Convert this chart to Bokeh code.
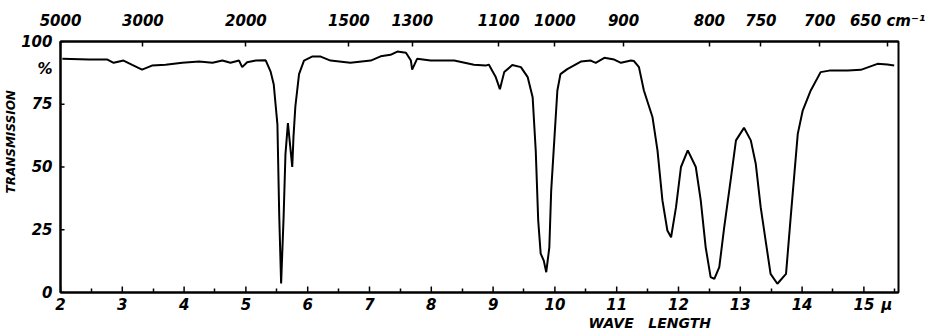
import math
from bokeh.plotting import figure
from bokeh.models import Range1d, LinearAxis, FixedTicker, Title
from bokeh.embed import file_html
from bokeh.resources import INLINE

# wavelength (micron) and % transmission
wavelength = [2.03, 2.46, 2.76, 2.86, 3.02, 3.16, 3.32, 3.48, 3.70, 3.97, 4.24, 4.46, 4.62,
              4.75, 4.89, 4.94, 5.02, 5.16, 5.32, 5.40, 5.45, 5.48, 5.51, 5.54, 5.57, 5.61,
              5.64, 5.68, 5.71, 5.75, 5.77, 5.80, 5.86, 5.94, 6.07, 6.21, 6.37, 6.69, 7.02,
              7.18, 7.34, 7.45, 7.59, 7.67, 7.69, 7.77, 7.99, 8.37, 8.69, 8.88, 8.93, 9.04,
              9.11, 9.18, 9.31, 9.45, 9.56, 9.64, 9.69, 9.73, 9.77, 9.82, 9.86, 9.91, 9.94,
              9.99, 10.04, 10.09, 10.20, 10.42, 10.58, 10.66, 10.80, 10.96, 11.07, 11.23,
              11.28, 11.36, 11.44, 11.58, 11.66, 11.74, 11.82, 11.88, 11.96, 12.04, 12.15,
              12.28, 12.36, 12.44, 12.52, 12.58, 12.66, 12.74, 12.85, 12.93, 13.06, 13.17,
              13.25, 13.33, 13.41, 13.49, 13.60, 13.74, 13.82, 13.93, 14.01, 14.14, 14.30,
              14.44, 14.74, 14.95, 15.22, 15.38, 15.49]
transmission = [93.1, 92.8, 92.8, 91.5, 92.4, 90.7, 88.8, 90.4, 90.7, 91.5, 92.0, 91.5, 92.4,
                91.5, 92.4, 89.8, 91.7, 92.4, 92.5, 88.0, 83.0, 75.0, 67.0, 30.0, 3.6, 30.0,
                55.0, 67.5, 60.0, 50.0, 62.0, 74.0, 87.0, 92.4, 94.0, 94.0, 92.4, 91.5, 92.4,
                94.1, 94.7, 96.0, 95.5, 92.4, 88.8, 93.1, 92.4, 92.4, 90.7, 90.4, 90.8, 86.0,
                81.0, 87.8, 90.6, 89.8, 85.8, 77.8, 56.6, 28.7, 15.5, 12.7, 8.1, 18.0, 40.6,
                60.6, 80.5, 87.0, 89.0, 92.0, 92.4, 91.5, 93.5, 92.8, 91.5, 92.4,
                92.2, 89.8, 80.5, 69.8, 56.6, 36.7, 24.7, 22.0, 34.0, 50.0, 56.6,
                50.0, 36.7, 18.0, 6.1, 5.4, 10.1, 26.0, 45.9, 60.6, 65.6, 60.6,
                51.3, 34.0, 20.7, 7.4, 3.5, 7.4, 31.3, 63.2, 72.5, 80.5, 87.8,
                88.4, 88.4, 88.7, 91.1, 90.8, 90.4]

micron_ticks = [2, 3, 4, 5, 6, 7, 8, 9, 10, 11, 12, 13, 14, 15]
micron_minor = [2.5, 3.5, 4.5, 5.5, 6.5, 7.5, 8.5, 9.5, 10.5, 11.5, 12.5, 13.5, 14.5, 15.5]
micron_unit_pos = 15.37
wavenumbers = [5000, 3000, 2000, 1500, 1300, 1100, 1000, 900, 800, 750, 700, 650]
wavenumber_labels = ["5000", "3000", "2000", "1500", "1300", "1100", "1000", "900",
                     "800", "750", "700", "650 cm\u207b\u00b9"]
y_ticks = [0, 25, 50, 75, 100]
percent_pos = 89.2

FONT = "DejaVu Sans"
STYLE = "bold italic"

p = figure(frame_width=838, frame_height=251, output_backend="svg", toolbar_location=None,
           x_range=Range1d(2, 15.56), y_range=Range1d(0, 100),
           min_border_left=60, min_border_right=38, min_border_top=41, min_border_bottom=37,
           x_axis_location=None, y_axis_location=None)
p.grid.visible = False
p.outline_line_color = "black"
p.outline_line_width = 2
p.background_fill_color = "white"
p.border_fill_color = "white"


def style_axis(ax):
    ax.axis_line_width = 2
    ax.major_tick_line_width = 1.5
    ax.minor_tick_line_width = 1.5
    ax.major_label_text_font = FONT
    ax.major_label_text_font_style = STYLE
    ax.major_label_text_font_size = "15px"
    ax.major_label_text_color = "black"


# bottom axis (wavelength, micron); major tick marks drawn as rays below
xb = LinearAxis(ticker=FixedTicker(ticks=micron_ticks + [micron_unit_pos], minor_ticks=micron_minor))
xb.major_label_overrides = {micron_unit_pos: "\u03bc"}
xb.major_tick_in = 0
xb.major_tick_out = 0
xb.minor_tick_in = 4
xb.minor_tick_out = 0
xb.major_label_standoff = 3
style_axis(xb)
p.add_layout(xb, "below")

# top axis (wavenumber, cm-1)
top_pos = [10000.0 / w for w in wavenumbers]
xt = LinearAxis(ticker=FixedTicker(ticks=top_pos, minor_ticks=[]))
xt.major_label_overrides = {t: lab for t, lab in zip(top_pos, wavenumber_labels)}
xt.major_tick_in = 5
xt.major_tick_out = 0
xt.major_label_standoff = 12
style_axis(xt)
p.add_layout(xt, "above")

# left axis (transmission); tick marks drawn as rays below
yl = LinearAxis(ticker=FixedTicker(ticks=y_ticks + [percent_pos], minor_ticks=[]))
yl.major_label_overrides = {percent_pos: "%"}
yl.major_tick_in = 0
yl.major_tick_out = 0
yl.major_label_standoff = 8
style_axis(yl)
p.add_layout(yl, "left")

# inward tick marks
p.ray(x=micron_ticks, y=[0] * len(micron_ticks), length=6, length_units="screen",
      angle=math.pi / 2, line_color="black", line_width=1.5)
p.ray(x=[2] * len(y_ticks), y=y_ticks, length=4, length_units="screen",
      angle=0, line_color="black", line_width=1.5)

p.line(wavelength, transmission, line_color="black", line_width=2)

p.add_layout(Title(text="WAVE\u00a0\u00a0\u00a0LENGTH", align="left", offset=528, standoff=-8,
                   text_font=FONT, text_font_style=STYLE, text_font_size="14px",
                   text_color="black"), "below")
p.add_layout(Title(text="TRANSMISSION", align="left", offset=99, standoff=2,
                   text_font=FONT, text_font_style=STYLE, text_font_size="12px",
                   text_color="black"), "left")

open("out.html", "w").write(file_html(p, INLINE))
